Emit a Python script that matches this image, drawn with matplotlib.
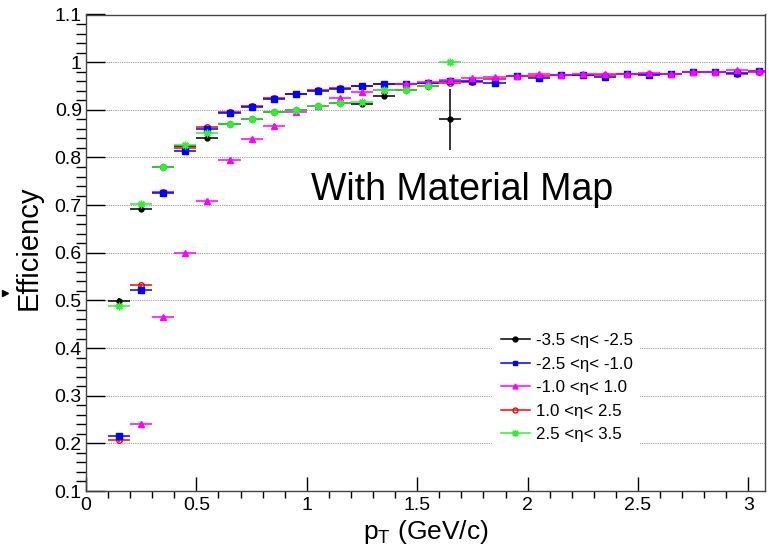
import numpy as np
import matplotlib
matplotlib.use("Agg")
import matplotlib.pyplot as plt
from matplotlib.lines import Line2D

plt.rcParams["font.family"] = ["Liberation Sans", "DejaVu Sans"]
plt.rcParams["mathtext.fontset"] = "custom"
plt.rcParams["mathtext.rm"] = "Liberation Sans"
plt.rcParams["mathtext.it"] = "Liberation Sans"

# bin centres (GeV/c), bin width 0.1
pt_fwd = [0.15, 0.25, 0.35, 0.45, 0.55, 0.65, 0.75, 0.85, 0.95, 1.05,
          1.15, 1.25, 1.35, 1.45, 1.55, 1.65]
pt_all = [0.15, 0.25, 0.35, 0.45, 0.55, 0.65, 0.75, 0.85, 0.95, 1.05,
          1.15, 1.25, 1.35, 1.45, 1.55, 1.65, 1.75, 1.85, 1.95, 2.05,
          2.15, 2.25, 2.35, 2.45, 2.55, 2.65, 2.75, 2.85, 2.95, 3.05]
pt_mid = pt_all[1:]

eff_m35_m25 = [0.499, 0.692, 0.780, 0.824, 0.840, 0.870, 0.881, 0.896, 0.900, 0.907,
               0.914, 0.912, 0.928, 0.941, 0.950, 0.880]
err_m35_m25 = [0.005, 0.005, 0.004, 0.004, 0.004, 0.004, 0.004, 0.004, 0.004, 0.004,
               0.004, 0.005, 0.005, 0.006, 0.008, 0.064]
eff_m25_m10 = [0.215, 0.522, 0.725, 0.814, 0.860, 0.893, 0.906, 0.923, 0.933, 0.940,
               0.944, 0.949, 0.955, 0.954, 0.957, 0.960, 0.961, 0.957, 0.970, 0.966,
               0.972, 0.973, 0.969, 0.976, 0.972, 0.975, 0.979, 0.979, 0.978, 0.982]
eff_m10_p10 = [0.240, 0.465, 0.599, 0.709, 0.795, 0.838, 0.867, 0.895, 0.907,
               0.924, 0.937, 0.942, 0.955, 0.958, 0.962, 0.966, 0.968, 0.970, 0.975,
               0.972, 0.975, 0.975, 0.976, 0.977, 0.975, 0.979, 0.979, 0.983, 0.982]
eff_p10_p25 = [0.206, 0.532, 0.728, 0.819, 0.863, 0.895, 0.908, 0.924, 0.934, 0.941,
               0.945, 0.950, 0.955, 0.955, 0.956, 0.957, 0.958, 0.965, 0.970, 0.970,
               0.972, 0.973, 0.974, 0.976, 0.975, 0.975, 0.979, 0.979, 0.976, 0.980]
eff_p25_p35 = [0.489, 0.702, 0.781, 0.826, 0.851, 0.870, 0.881, 0.896, 0.900, 0.907,
               0.914, 0.917, 0.942, 0.941, 0.949, 1.000]

labels = ["-3.5 <\u03b7< -2.5", "-2.5 <\u03b7< -1.0", "-1.0 <\u03b7< 1.0",
          "1.0 <\u03b7< 2.5", "2.5 <\u03b7< 3.5"]

GREEN = "#33ee33"
STAR = (8, 2, 0)

fig = plt.figure(figsize=(7.69, 5.45), dpi=100)
ax = fig.add_axes([86 / 769, 1 - 491 / 545, 679 / 769, 476.5 / 545])

half = 0.05
# drawing order: black, red, blue, magenta, green
series = [
    (pt_fwd, eff_m35_m25, err_m35_m25, "black", "o", "black", 3.5),
    (pt_all, eff_p10_p25, None, "#ff0000", "o", "none", 4),
    (pt_all, eff_m25_m10, None, "#0000ff", "s", "#0000ff", 4),
    (pt_mid, eff_m10_p10, None, "#ff00ff", "^", "#ff00ff", 4),
    (pt_fwd, eff_p25_p35, None, GREEN, STAR, GREEN, 5.5),
]
for z, (x, y, yerr, col, mk, fc, ms) in enumerate(series):
    ax.errorbar(x, y, xerr=half, yerr=yerr if yerr is not None else 0.003,
                fmt="none", ecolor=col, elinewidth=1.1, capsize=0, zorder=3 + z)
    ax.plot(x, y, linestyle="none", marker=mk, color=col, mfc=fc, mec=col,
            ms=ms, mew=1.0, zorder=3 + z)

ax.set_xlim(0, 3.075)
ax.set_ylim(0.1, 1.1)
ax.set_yticks(np.arange(0.1, 1.101, 0.1))
ax.set_yticklabels(["%g" % round(v, 1) for v in np.arange(0.1, 1.101, 0.1)])
ax.set_yticks(np.arange(0.1, 1.1, 0.02), minor=True)
ax.set_xticks([0, 0.5, 1, 1.5, 2, 2.5, 3])
ax.set_xticklabels(["0", "0.5", "1", "1.5", "2", "2.5", "3"])
ax.set_xticks(np.arange(0, 3.08, 0.1), minor=True)
ax.tick_params(axis="both", direction="in", labelsize=14, colors="black")
ax.tick_params(axis="y", which="major", length=14, width=1, pad=3)
ax.tick_params(axis="y", which="minor", length=7, width=1)
ax.tick_params(axis="x", which="major", length=10, width=1, pad=4)
ax.tick_params(axis="x", which="minor", length=5, width=1)
for s in ax.spines.values():
    s.set_linewidth(1)
    s.set_color("#444444")
ax.yaxis.grid(True, which="major", linestyle=(0, (1, 1)), color="#999999", linewidth=0.8)
ax.set_axisbelow(True)

ax.set_xlabel(r"p$_{\rm T}$ (GeV/c)", fontsize=19, labelpad=3)
ax.set_ylabel("Efficiency", fontsize=21)
ax.yaxis.set_label_coords(-0.064, 0.51)

ax.text(0.554, 0.632, "With Material Map", transform=ax.transAxes,
        fontsize=27, ha="center", va="center")

handles = [
    Line2D([], [], color="black", marker="o", ms=3.5, lw=1.1),
    Line2D([], [], color="#0000ff", marker="s", ms=3.5, lw=1.1),
    Line2D([], [], color="#ff00ff", marker="^", ms=3.5, lw=1.1),
    Line2D([], [], color="#ff0000", marker="o", mfc="none", ms=3.5, lw=1.1),
    Line2D([], [], color=GREEN, marker=STAR, ms=5, lw=1.1),
]
leg = ax.legend(handles, labels, loc="upper left", bbox_to_anchor=(0.60, 0.347),
                borderaxespad=0, fontsize=12.2, frameon=True, fancybox=False,
                handlelength=1.7, handletextpad=0.35, labelspacing=0.5,
                borderpad=0.45)
leg.get_frame().set_edgecolor("none")
leg.get_frame().set_facecolor("white")
leg.get_frame().set_alpha(1)

fig.add_artist(Line2D([5 / 769], [1 - 293 / 545], marker=">", color="black",
                      ms=4, transform=fig.transFigure))

fig.savefig("out.png", dpi=100)
